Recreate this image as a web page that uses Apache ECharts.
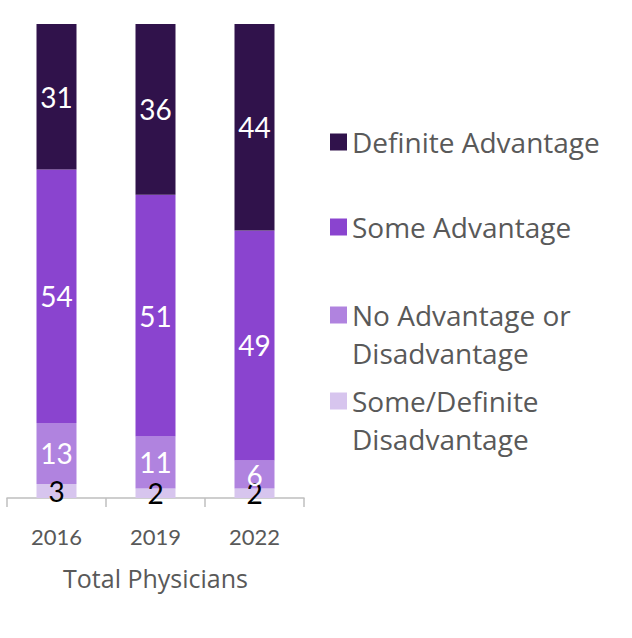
<!DOCTYPE html>
<html>
<head>
<meta charset="utf-8">
<script src="https://cdn.jsdelivr.net/npm/echarts@6/dist/echarts.min.js"></script>
<style>
  html, body { margin: 0; padding: 0; background: #fff; }
  #main { width: 632px; height: 638px; }
</style>
</head>
<body>
<div id="main"></div>
<script>
const years = ['2016', '2019', '2022'];
const definiteAdv = [31, 36, 44];
const someAdv = [54, 51, 49];
const noAdv = [13, 11, 6];
const disadv = [3, 2, 2];

const FONT = 'Lato';
const TEXT_FONT = 'Open Sans';

// Excel draws this as a 100% stacked column, so each bar is scaled to its own total
const totals = years.map((_, i) => definiteAdv[i] + someAdv[i] + noAdv[i] + disadv[i]);
const share = arr => arr.map((v, i) => ({ value: v / totals[i] * 100, raw: v }));

const chart = echarts.init(document.getElementById('main'), null, { renderer: 'svg' });

function seg(name, arr, color, labelColor) {
    return {
        name: name,
        type: 'bar',
        stack: 'total',
        barWidth: 40,
        data: share(arr),
        itemStyle: { color: color },
        label: {
            show: true,
            position: 'inside',
            color: labelColor,
            fontFamily: FONT,
            fontSize: 28,
            formatter: p => p.data.raw
        }
    };
}

const legendBase = {
    orient: 'vertical',
    left: 325,
    itemWidth: 17,
    itemHeight: 17,
    itemGap: 10,
    icon: 'rect',
    selectedMode: false,
    textStyle: { fontFamily: TEXT_FONT, fontSize: 28, color: '#595959', lineHeight: 38 }
};
// two-line entries: a blank first line puts the icon beside the first text line
const twoLine = { formatter: name => '\n' + name };

chart.setOption({
    animation: false,
    grid: { left: 7, right: 328, top: 24, bottom: 140 },
    legend: [
        Object.assign({}, legendBase, { top: 118, data: ['Definite Advantage'] }),
        Object.assign({}, legendBase, { top: 203, data: ['Some Advantage'] }),
        Object.assign({}, legendBase, twoLine, { top: 253, data: ['No Advantage or\nDisadvantage'] }),
        Object.assign({}, legendBase, twoLine, { top: 339, data: ['Some/Definite\nDisadvantage'] })
    ],
    xAxis: {
        type: 'category',
        data: years,
        axisLine: { lineStyle: { color: '#bfbfbf', width: 1.5 } },
        axisTick: { show: true, length: 9, lineStyle: { color: '#bfbfbf', width: 1.5 } },
        axisLabel: { color: '#595959', fontFamily: FONT, fontSize: 22, margin: 27 },
        name: 'Total Physicians',
        nameLocation: 'middle',
        nameGap: 67,
        nameTextStyle: { color: '#595959', fontFamily: TEXT_FONT, fontSize: 25 }
    },
    yAxis: { type: 'value', min: 0, max: 100, show: false },
    series: [
        seg('Some/Definite\nDisadvantage', disadv, '#d7c5ee', '#000'),
        seg('No Advantage or\nDisadvantage', noAdv, '#b083df', '#fff'),
        seg('Some Advantage', someAdv, '#8a44cf', '#fff'),
        seg('Definite Advantage', definiteAdv, '#30124b', '#fff')
    ]
});
</script>
</body>
</html>
